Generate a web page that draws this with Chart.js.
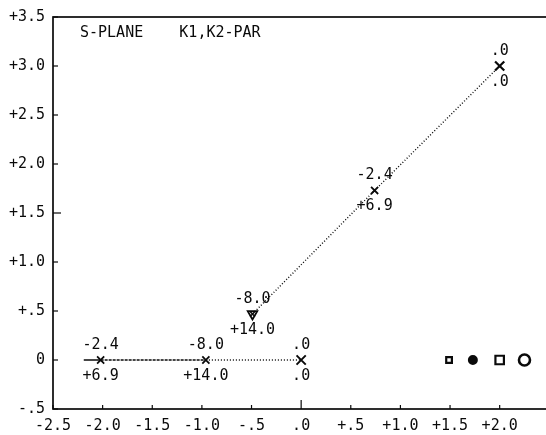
<!DOCTYPE html>
<html>
<head>
<meta charset="utf-8">
<script src="https://cdn.jsdelivr.net/npm/chart.js@4.4.1/dist/chart.umd.min.js"></script>
<style>
  html, body { margin: 0; padding: 0; background: #fff; overflow: hidden; }
  #wrap { width: 558px; height: 435px; position: relative; }
</style>
</head>
<body>
<div id="wrap"><canvas id="locus"></canvas></div>
<script>
// axis tick labels (plotter style)
const xTickLabels = ['-2.5', '-2.0', '-1.5', '-1.0', '-.5', '.0', '+.5', '+1.0', '+1.5', '+2.0', ''];
const yTickLabels = ['-.5', '0', '+.5', '+1.0', '+1.5', '+2.0', '+2.5', '+3.0', '+3.5'];

// branch on the real axis
const realX = [-2.19, -2.02, -0.96, 0];
const realY = [0, 0, 0, 0];
const realAbove = ['', '-2.4', '-8.0', '.0'];
const realBelow = ['', '+6.9', '+14.0', '.0'];

// complex branch
const cplxX = [-0.49, 0.74, 2.0];
const cplxY = [0.47, 1.73, 3.0];
const cplxAbove = ['-8.0', '-2.4', '.0'];
const cplxBelow = ['+14.0', '+6.9', '.0'];

// symbols on the right
const symX = [1.49, 1.73, 2.0, 2.25];
const symY = [0, 0, 0, 0];

const ink = '#0a0a0a';
const FONT = '"DejaVu Sans Mono", "Liberation Mono", monospace';

const toPts = (xs, ys) => xs.map((x, i) => ({ x: x, y: ys[i] }));

// frame, inward ticks, point labels, heading
const plotterPlugin = {
    id: 'plotter',
    afterDraw(chart) {
        const ctx = chart.ctx;
        const a = chart.chartArea;
        const xs = chart.scales.x;
        const ys = chart.scales.y;
        ctx.save();
        ctx.strokeStyle = ink;
        ctx.lineWidth = 1.7;
        ctx.strokeRect(a.left, a.top, a.right - a.left, a.bottom - a.top);
        ctx.lineWidth = 1.2;
        xs.ticks.forEach((t, i) => {
            const px = xs.getPixelForTick(i);
            const len = t.value === 0 ? 9 : 4;
            ctx.beginPath();
            ctx.moveTo(px, a.bottom);
            ctx.lineTo(px, a.bottom - len);
            ctx.stroke();
        });
        ys.ticks.forEach((t, i) => {
            const py = ys.getPixelForTick(i);
            const len = t.value === 1.5 ? 8 : 5;
            ctx.beginPath();
            ctx.moveTo(a.left, py);
            ctx.lineTo(a.left + len, py);
            ctx.stroke();
        });
        // K1,K2 values next to the points
        ctx.fillStyle = ink;
        ctx.font = '15px ' + FONT;
        ctx.textAlign = 'center';
        ctx.textBaseline = 'middle';
        chart.data.datasets.forEach((ds, di) => {
            if (!ds.above) return;
            const meta = chart.getDatasetMeta(di);
            meta.data.forEach((el, j) => {
                if (ds.above[j]) ctx.fillText(ds.above[j], el.x, el.y - 15);
                if (ds.below[j]) ctx.fillText(ds.below[j], el.x, el.y + 16);
            });
        });
        // heading
        ctx.textAlign = 'left';
        ctx.fillText('S-PLANE    K1,K2-PAR', a.left + 27, a.top + 16);
        ctx.restore();
    }
};

new Chart(document.getElementById('locus'), {
    type: 'scatter',
    data: {
        datasets: [
            {
                data: toPts(realX, realY),
                showLine: true,
                borderColor: ink,
                borderWidth: 1.4,
                segment: {
                    borderDash: c => c.p0DataIndex === 0 ? [] : (c.p0DataIndex === 1 ? [3, 1] : [1, 2])
                },
                pointStyle: 'crossRot',
                pointRadius: [0, 5, 5, 6.5],
                pointBorderWidth: [0, 1.8, 1.8, 2],
                pointBorderColor: ink,
                above: realAbove,
                below: realBelow
            },
            {
                data: toPts(cplxX, cplxY),
                showLine: true,
                borderColor: ink,
                borderWidth: 1.4,
                borderDash: [1, 2],
                pointStyle: 'crossRot',
                pointRadius: [3.5, 5, 6.5],
                pointBorderWidth: [1.5, 1.8, 2.2],
                pointBorderColor: ink,
                above: cplxAbove,
                below: cplxBelow
            },
            {
                // turning mark at the first complex point
                data: toPts(cplxX.slice(0, 1), cplxY.slice(0, 1)),
                pointStyle: 'triangle',
                rotation: 180,
                pointRadius: 5.5,
                pointBorderWidth: 1.8,
                pointBorderColor: ink,
                pointBackgroundColor: 'rgba(0,0,0,0)'
            },
            {
                data: toPts(symX, symY),
                pointStyle: ['rect', 'circle', 'rect', 'circle'],
                pointRadius: [4, 4, 6, 5.5],
                pointBorderWidth: [2.2, 2, 2.2, 2.6],
                pointBorderColor: ink,
                pointBackgroundColor: ['#fff', ink, '#fff', '#fff']
            },
            {
                data: toPts(symX, symY),
                pointStyle: 'circle',
                pointRadius: 1.2,
                pointBorderWidth: 0,
                pointBackgroundColor: [ink, '#fff', ink, ink]
            }
        ]
    },
    options: {
        responsive: true,
        maintainAspectRatio: false,
        animation: false,
        layout: { padding: { top: 13, right: 1, left: 0, bottom: 0 } },
        plugins: {
            legend: { display: false },
            tooltip: { enabled: false }
        },
        scales: {
            x: {
                type: 'linear',
                min: -2.5,
                max: 2.5,
                grid: { display: false, drawTicks: false },
                border: { display: false },
                ticks: {
                    stepSize: 0.5,
                    autoSkip: false,
                    maxRotation: 0,
                    padding: 8,
                    color: ink,
                    font: { family: FONT, size: 15 },
                    callback: (v, i) => xTickLabels[i]
                },
                afterFit: s => { s.height = 26; }
            },
            y: {
                type: 'linear',
                min: -0.5,
                max: 3.5,
                grid: { display: false, drawTicks: false },
                border: { display: false },
                ticks: {
                    stepSize: 0.5,
                    autoSkip: false,
                    padding: 8,
                    color: ink,
                    font: { family: FONT, size: 15 },
                    callback: (v, i) => yTickLabels[i]
                },
                afterFit: s => { s.width = 53; }
            }
        }
    },
    plugins: [plotterPlugin]
});
</script>
</body>
</html>
